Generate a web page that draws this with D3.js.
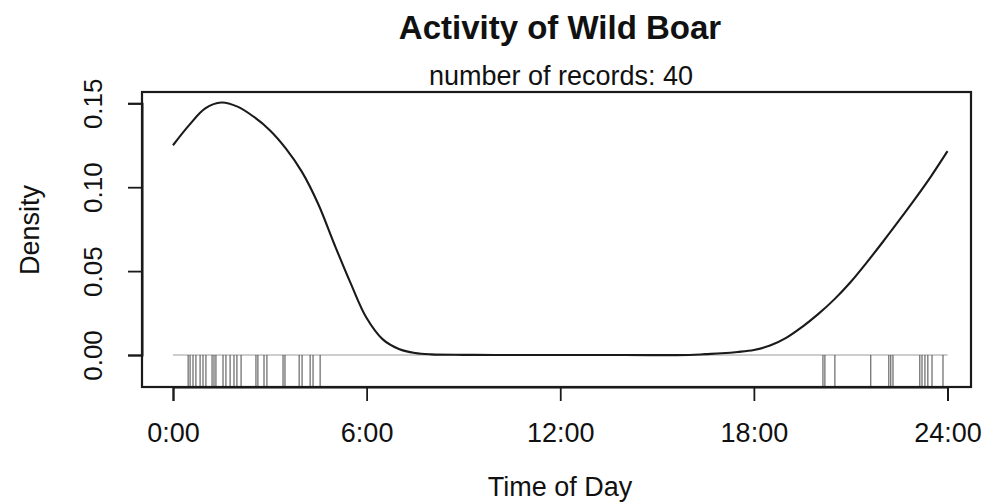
<!DOCTYPE html>
<html>
<head>
<meta charset="utf-8">
<script src="https://cdn.jsdelivr.net/npm/d3@7"></script>
<style>
  body { margin: 0; background: #fff; }
  svg text { font-family: "Liberation Sans", Arial, sans-serif; fill: #111; }
</style>
</head>
<body>
<svg id="chart" width="999" height="502"></svg>
<script>
// Dichtekurve (Stunde -> Dichte)
const curveHours = [0, 0.5, 1, 1.5, 2, 2.5, 3, 3.5, 4, 4.5, 5, 5.5, 6, 6.5, 7, 7.5, 8, 9, 10, 12, 14, 16, 16.5, 17, 17.5, 18, 18.5, 19, 19.5, 20, 20.5, 21, 21.5, 22, 22.5, 23, 23.5, 24];
const curveDensity = [0.125, 0.137, 0.147, 0.1505, 0.148, 0.142, 0.134, 0.123, 0.109, 0.090, 0.066, 0.043, 0.022, 0.0093, 0.0036, 0.0012, 0.0004, 0.0001, 0, 0, 0, 0, 0.0005, 0.001, 0.0018, 0.003, 0.0056, 0.0102, 0.0168, 0.0245, 0.0333, 0.0435, 0.0552, 0.0675, 0.0802, 0.0932, 0.1068, 0.1215];

// Zeitpunkte der 40 Aufnahmen (Rug)
const recordHours = [0.47, 0.53, 0.62, 0.71, 0.84, 0.93, 1.02, 1.21, 1.27, 1.33, 1.55, 1.64, 1.77, 1.89, 1.98, 2.11, 2.57, 2.63, 2.82, 2.91, 3.41, 3.47, 3.91, 4.00, 4.25, 4.34, 4.56,
                     20.14, 20.20, 20.51, 21.62, 22.18, 22.24, 22.31, 23.14, 23.21, 23.30, 23.39, 23.52, 23.86];

const xTicks = [0, 6, 12, 18, 24];
const xTickLabels = ["0:00", "6:00", "12:00", "18:00", "24:00"];
const yTicks = [0, 0.05, 0.10, 0.15];

const titleText = "Activity of Wild Boar";
const subtitleText = "number of records: 40";
const xLabel = "Time of Day";
const yLabel = "Density";

const svg = d3.select("#chart");

// Plotbereich (Box)
const box = {left: 142, right: 971, top: 92, bottom: 387};

const x = d3.scaleLinear().domain([0, 24]).range([173, 947.5]);
const y = d3.scaleLinear().domain([0, 0.15]).range([355, 103.3]);

// Nulllinie
svg.append("line")
    .attr("x1", x(0)).attr("x2", x(24))
    .attr("y1", y(0)).attr("y2", y(0))
    .attr("stroke", "#bdbdbd").attr("stroke-width", 1.5);

// Rug
svg.append("g").selectAll("line")
    .data(recordHours)
    .join("line")
    .attr("x1", d => x(d)).attr("x2", d => x(d))
    .attr("y1", y(0)).attr("y2", box.bottom)
    .attr("stroke", "#444").attr("stroke-opacity", 0.7).attr("stroke-width", 1.4);

// Dichtekurve
const line = d3.line()
    .x((d, i) => x(curveHours[i]))
    .y(d => y(Math.max(0, d)))
    .curve(d3.curveCatmullRom.alpha(0.5));

svg.append("path")
    .datum(curveDensity)
    .attr("d", line)
    .attr("fill", "none")
    .attr("stroke", "#1a1a1a")
    .attr("stroke-width", 2.1);

// Box
svg.append("rect")
    .attr("x", box.left).attr("y", box.top)
    .attr("width", box.right - box.left).attr("height", box.bottom - box.top)
    .attr("fill", "none").attr("stroke", "#1a1a1a").attr("stroke-width", 2.2);

// x-Achse
const xAxis = d3.axisBottom(x)
    .tickValues(xTicks)
    .tickFormat((d, i) => xTickLabels[i])
    .tickSize(14)
    .tickPadding(22);

const gx = svg.append("g")
    .attr("transform", "translate(0," + box.bottom + ")")
    .call(xAxis);
gx.select(".domain").attr("stroke", "#1a1a1a").attr("stroke-width", 2);
gx.selectAll(".tick line").attr("stroke", "#1a1a1a").attr("stroke-width", 1.8);
gx.selectAll(".tick text")
    .attr("font-size", 27)
    .attr("fill", "#111")
    .attr("font-family", "Liberation Sans, Arial, sans-serif");

// y-Achse
const yAxis = d3.axisLeft(y)
    .tickValues(yTicks)
    .tickFormat(d3.format(".2f"))
    .tickSize(14)
    .tickPadding(0);

const gy = svg.append("g")
    .attr("transform", "translate(" + box.left + ",0)")
    .call(yAxis);
gy.select(".domain").attr("stroke", "#1a1a1a").attr("stroke-width", 2);
gy.selectAll(".tick line").attr("stroke", "#1a1a1a").attr("stroke-width", 1.8);
gy.selectAll(".tick text")
    .attr("font-size", 26)
    .attr("fill", "#111")
    .attr("font-family", "Liberation Sans, Arial, sans-serif")
    .attr("text-anchor", "middle")
    .attr("dy", 0)
    .attr("x", 0)
    .attr("transform", "translate(-40,0) rotate(-90)");

// Titel
svg.append("text")
    .attr("x", 560).attr("y", 39)
    .attr("text-anchor", "middle")
    .attr("font-size", 33)
    .attr("font-weight", "bold")
    .text(titleText);

svg.append("text")
    .attr("x", 561).attr("y", 85)
    .attr("text-anchor", "middle")
    .attr("font-size", 27)
    .text(subtitleText);

// Achsenbeschriftungen
svg.append("text")
    .attr("x", 560).attr("y", 496)
    .attr("text-anchor", "middle")
    .attr("font-size", 27)
    .text(xLabel);

svg.append("text")
    .attr("transform", "translate(39,230) rotate(-90)")
    .attr("text-anchor", "middle")
    .attr("font-size", 27)
    .text(yLabel);
</script>
</body>
</html>
